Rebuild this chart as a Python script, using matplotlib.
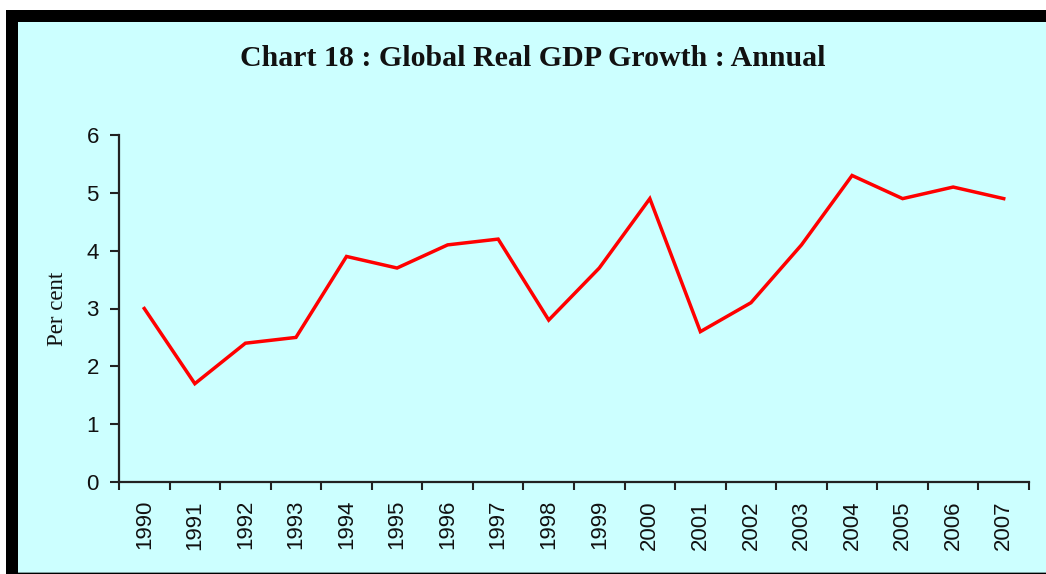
import matplotlib
matplotlib.use("Agg")
import matplotlib.pyplot as plt
from matplotlib.patches import Rectangle
import numpy as np

years = ["1990", "1991", "1992", "1993", "1994", "1995", "1996", "1997", "1998",
         "1999", "2000", "2001", "2002", "2003", "2004", "2005", "2006", "2007"]
growth = [3.0, 1.7, 2.4, 2.5, 3.9, 3.7, 4.1, 4.2, 2.8,
          3.7, 4.9, 2.6, 3.1, 4.1, 5.3, 4.9, 5.1, 4.9]
y_ticks = [0, 1, 2, 3, 4, 5, 6]

W, H = 1046, 574
fig = plt.figure(figsize=(W / 100, H / 100), dpi=100, facecolor="white")

def px_rect(x0, y0, x1, y1, color, z):
    fig.patches.append(Rectangle((x0 / W, 1 - y1 / H), (x1 - x0) / W, (y1 - y0) / H,
                                 transform=fig.transFigure, facecolor=color,
                                 edgecolor="none", zorder=z))

# frame: thick black left/top border, cyan interior, thin grey bottom line
px_rect(6, 10, W, 574, "black", -3)
px_rect(18, 22, W, 573, "#7f9f9f", -2)
px_rect(18, 22, W, 572, "#CCFFFF", -1)

ax = fig.add_axes([119 / W, 1 - 482 / H, (1029 - 119) / W, (482 - 135) / H])
ax.set_facecolor("none")

x = np.arange(len(years))
ax.plot(x, growth, color="#FF0000", linewidth=2.5, solid_joinstyle="miter")

ax.set_xlim(-0.5, len(years) - 0.5)
ax.set_ylim(0, 6)
ax.set_yticks(y_ticks)
ax.set_yticklabels([str(v) for v in y_ticks])

ax.set_xticks(np.arange(len(years) + 1) - 0.5)
ax.set_xticklabels([])
ax.set_xticks(x, minor=True)
ax.set_xticklabels(years, minor=True, rotation=90)

for lab in ax.get_yticklabels() + ax.get_xticklabels(minor=True):
    lab.set_fontfamily("Liberation Sans")
    lab.set_fontsize(16)
    lab.set_color("#111111")

ax.tick_params(axis="y", which="major", length=6.5, width=1.5, pad=8, color="#222222")
ax.tick_params(axis="x", which="major", length=6, width=1.5, color="#222222")
ax.tick_params(axis="x", which="minor", length=0, pad=13)

for s in ["top", "right"]:
    ax.spines[s].set_visible(False)
for s in ["left", "bottom"]:
    ax.spines[s].set_linewidth(1.6)
    ax.spines[s].set_color("#222222")

ax.set_ylabel("Per cent", fontfamily="Liberation Serif", fontsize=16.5, color="#111111")
ax.yaxis.set_label_coords(-0.056, 0.5)

fig.text(533 / W, 1 - 59 / H, "Chart 18 : Global Real GDP Growth : Annual",
         ha="center", va="center", fontfamily="Liberation Serif",
         fontweight="bold", fontsize=21.5, color="#111111")

fig.savefig("out.png", dpi=100, facecolor="white")
